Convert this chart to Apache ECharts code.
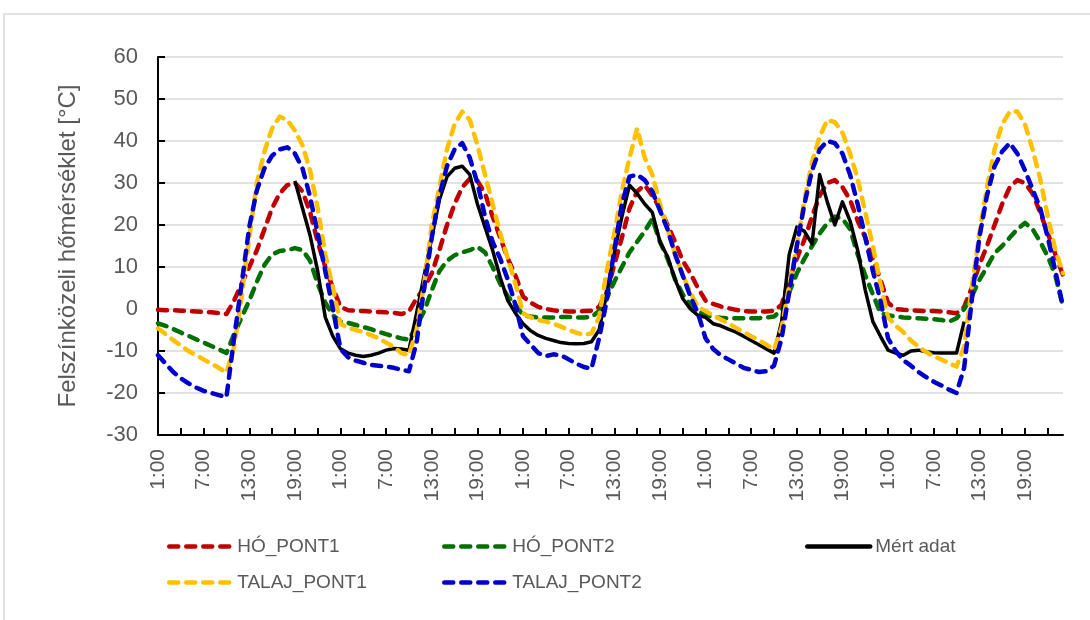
<!DOCTYPE html>
<html>
<head>
<meta charset="utf-8">
<script src="https://cdn.jsdelivr.net/npm/echarts@6/dist/echarts.min.js"></script>
<style>html,body{margin:0;padding:0;background:#fff}#c{width:1090px;height:620px}</style>
</head>
<body>
<div id="c"></div>
<script>
// ---- data ----
const dayHours = ['1:00','2:00','3:00','4:00','5:00','6:00','7:00','8:00','9:00','10:00','11:00','12:00',
  '13:00','14:00','15:00','16:00','17:00','18:00','19:00','20:00','21:00','22:00','23:00','0:00'];
const categories = [].concat(dayHours, dayHours, dayHours, dayHours, dayHours);

const hoPont1 = [
  -0.2,-0.3,-0.3,-0.4,-0.5,-0.6,-0.7,-0.8,-1.0,-1.2,2,6,10,14,19,24,27.5,29.5,30,28,23,16,10,5,
  0.5,-0.3,-0.4,-0.5,-0.6,-0.7,-0.8,-0.9,-1.2,-0.6,2.5,5,8.5,14,20,25,29,31,30.5,27.5,22,17,12,8,
  3,1.5,0.5,0,-0.3,-0.5,-0.6,-0.6,-0.5,-0.4,0.5,4,10.5,17,24,28,29.5,27,24,20,16,11.5,8.5,5,
  2,1.2,0.6,0.2,-0.2,-0.5,-0.6,-0.6,-0.6,-0.4,1,7,12,16.5,22,27,30,30.7,29,26,21,17,12,7,
  1.5,0,-0.2,-0.3,-0.4,-0.5,-0.5,-0.6,-0.8,-1,0.5,5,10.5,15,20,25,29,30.7,30,27.5,23,18,13,8
];
const hoPont2 = [
  -3.4,-4,-4.8,-5.6,-6.4,-7.2,-8,-8.8,-9.6,-10.5,-6,-2,2,6.5,10.5,13,13.8,14,14.5,14,11.5,6,1.5,-1.5,
  -3,-3.3,-3.8,-4.3,-4.8,-5.4,-6,-6.5,-7,-7.3,-4,-0.5,4.5,9,11.5,12.8,13.5,14,14.8,13.5,10,6,3,1,
  -1.5,-1.8,-2,-2,-2,-1.9,-1.9,-2,-2,-1.9,-0.5,2.5,6.5,10,13.5,16,18.5,21.5,16,12,7,3.5,1,-0.5,
  -1.5,-1.9,-2.1,-2.2,-2.2,-2.2,-2.2,-2.2,-2,-1.8,-0.2,4,8.5,12,15,18,20.4,22,21.5,19,13,8,3.5,-1,
  -1.5,-1.8,-2,-2.1,-2.2,-2.3,-2.4,-2.6,-3,-2.2,0,3,6.9,10,13.3,15,17,19,20.5,19,16,12.5,8,0.5
];
const mertAdat = [
  null,null,null,null,null,null,null,null,null,null,null,null,null,null,null,null,null,null,30.5,24,17.5,9,-2,-6.5,
  -9.5,-10.5,-11,-11.3,-11,-10.5,-9.8,-9.4,-9.5,-9.8,-1,8,17,26,31.5,33.5,34,32,25,19.5,14,7.5,2,-1,
  -3.5,-5.2,-6.3,-7,-7.5,-8,-8.2,-8.3,-8.2,-7.8,-5,4,13.5,22,29.5,27.5,25,23,16,12.5,7,2.5,0,-1.5,
  -2,-3.5,-4,-4.8,-5.5,-6.5,-7.5,-8.5,-9.5,-10.5,-3,13,19.5,18.5,15.5,32,25.5,20,25.5,21,14,4.5,-3,-6.5,
  -9.8,-10.5,-11,-10,-9.8,-10.2,-10.4,-10.5,-10.5,-10.5,-3,null,null,null,null,null,null,null,null,null,null,null,null,null
];
const talajPont1 = [
  -4.6,-6,-7.4,-8.7,-10,-11,-12,-13,-14,-15.2,-9,3,17,30,37.5,43,45.8,45,42.5,39,33,24,13,5,
  -3.5,-4.5,-5,-5.5,-6.2,-7,-8,-9,-10.5,-11,-5,6,20,29,38,44,47,45,39,32,25,18,12,6,
  -1,-2,-2.6,-3,-3.5,-4.2,-5,-5.6,-6.2,-5.8,-2,9,18,28,36,43,36,32,25,19,13,8,4,0.5,
  -0.5,-1.5,-2.5,-3.4,-4.5,-5.5,-6.5,-7.4,-8.5,-9.7,-4.5,5.5,15,26,35,41,45,44.5,42,37,31,23,15,6,
  -2,-4,-5.5,-7.5,-9,-10.2,-11.3,-12,-12.9,-13.7,-9,5,18,29,38,44,47,47,44,38,31,22,14,8.5
];
const talajPont2 = [
  -11,-13,-15,-16.5,-17.7,-18.7,-19.5,-20,-20.5,-21,-7,6,19.5,28.3,33.5,36.5,38,38.5,37,33.5,26.7,18,9,0,
  -9.5,-11.5,-12.3,-12.8,-13.3,-13.5,-13.7,-14,-14.5,-14.8,-8,5,17,27,34,38,39.5,36,30,22,16,12,7,1,
  -6.5,-8.5,-10.5,-11.2,-10.8,-11,-12,-13,-13.8,-14.2,-7,2,14,25,31.5,32,30.7,28,23.5,19,13,8,3,-1,
  -7,-9.5,-11,-12,-13,-14,-14.5,-15,-14.8,-13.5,-7,4,15,25,33,38,40,39.5,37,32,25,17,9,2,
  -7,-10,-12.2,-13.5,-15,-16.2,-17.3,-18.2,-19.2,-20,-14,2,17,27,34,37.5,39.5,37,33,28.5,24,17,9,0.5
];
const seriesNames = ['HÓ_PONT1','HÓ_PONT2','Mért adat','TALAJ_PONT1','TALAJ_PONT2'];
const yName = 'Felszínközeli hőmérséklet [°C]';

// ---- chart ----
const FONT = 'Liberation Sans';
const TXT = '#595959';
const dash = [9, 8];
function dashed(name, data, color) {
  return {
    name: name, type: 'line', data: data, symbol: 'none', showSymbol: false,
    lineStyle: { color: color, width: 4.5, type: dash, cap: 'round', join: 'round' },
    itemStyle: { color: color }
  };
}
const legendText = { fontFamily: FONT, fontSize: 19, color: TXT };
function legendAt(names, left, lineType) {
  return {
    data: names, orient: 'vertical', left: left, top: 537, padding: 0,
    itemWidth: 63, itemHeight: 12, itemGap: 17, textStyle: legendText,
    itemStyle: { opacity: 0 },
    lineStyle: { width: 4.5, type: lineType, cap: 'round' }
  };
}
const chart = echarts.init(document.getElementById('c'), null, { renderer: 'canvas' });
chart.setOption({
  animation: false,
  backgroundColor: '#ffffff',
  graphic: [{
    type: 'rect', silent: true, z: -10,
    shape: { x: 4, y: 14, width: 1200, height: 700 },
    style: { fill: 'none', stroke: '#d9d9d9', lineWidth: 1.5 }
  }],
  grid: { left: 158, right: 27, top: 57, bottom: 185, containLabel: false },
  xAxis: {
    type: 'category', data: categories, boundaryGap: false,
    axisLine: { onZero: false, lineStyle: { color: '#000', width: 2 } },
    axisTick: { show: true, inside: true, interval: 2, length: 7, lineStyle: { color: '#000', width: 2 } },
    axisLabel: { interval: 5, rotate: 90, margin: 14, fontFamily: FONT, fontSize: 21, color: TXT },
    splitLine: { show: false }
  },
  yAxis: {
    type: 'value', min: -30, max: 60, interval: 10,
    name: yName, nameLocation: 'middle', nameGap: 78, nameRotate: 90,
    nameTextStyle: { fontFamily: FONT, fontSize: 24, color: TXT },
    axisLine: { show: true, lineStyle: { color: '#000', width: 2 } },
    axisTick: { show: true, inside: true, length: 7, lineStyle: { color: '#000', width: 2 } },
    axisLabel: { margin: 20, fontFamily: FONT, fontSize: 22, color: TXT },
    splitLine: { show: true, lineStyle: { color: '#d9d9d9', width: 1.5 } }
  },
  legend: [
    legendAt([seriesNames[0], seriesNames[3]], 167, dash),
    legendAt([seriesNames[1], seriesNames[4]], 442, dash),
    legendAt([seriesNames[2]], 805, 'solid')
  ],
  series: [
    dashed(seriesNames[0], hoPont1, '#C00000'),
    dashed(seriesNames[1], hoPont2, '#007000'),
    { name: seriesNames[2], type: 'line', data: mertAdat, symbol: 'none', showSymbol: false,
      lineStyle: { color: '#000000', width: 3.5, join: 'round' }, itemStyle: { color: '#000000' } },
    dashed(seriesNames[3], talajPont1, '#FFC000'),
    dashed(seriesNames[4], talajPont2, '#0000CC')
  ]
});
</script>
</body>
</html>
